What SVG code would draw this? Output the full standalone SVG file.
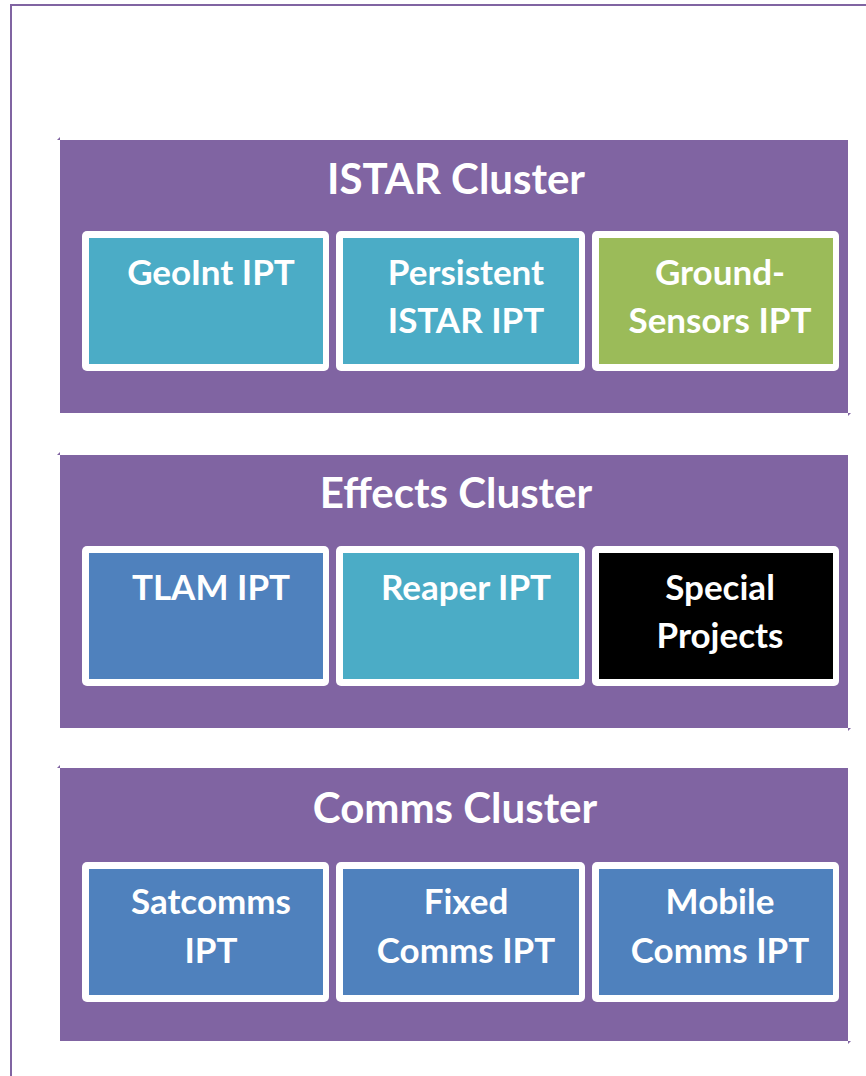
<svg xmlns="http://www.w3.org/2000/svg" width="866" height="1076" viewBox="0 0 866 1076">
<style>
.cl{fill:#8064A2}
.fr{fill:#ffffff}
.t{font-family:Lato,"Liberation Sans",sans-serif;font-weight:bold;fill:#ffffff;text-anchor:middle}
.ti{font-size:42px}
.bx{font-size:35px}
.teal{fill:#4BACC6}
.green{fill:#9BBB59}
.blue{fill:#4F81BD}
.blk{fill:#000000}
.mk{fill:#8064A2}
</style>
<rect width="866" height="1076" fill="#ffffff"/>
<rect x="11" y="5" width="880" height="1090" fill="none" stroke="#8064A2" stroke-width="2"/>

<g id="istar-cluster">
<rect class="cl" x="60" y="140" width="788" height="273"/>
<polygon class="mk" points="57,140 60,137 60,140"/>
<polygon class="mk" points="848,413 851,413 848,416"/>
<text class="t ti" x="456" y="194">ISTAR Cluster</text>
</g>
<g id="geoint-ipt">
<rect class="fr" x="82" y="231" width="247" height="140" rx="5"/>
<rect class="teal" x="89" y="238" width="234" height="126"/>
<text class="t bx" x="211" y="285">GeoInt IPT</text>
</g>
<g id="persistent-istar-ipt">
<rect class="fr" x="336" y="231" width="249" height="140" rx="5"/>
<rect class="teal" x="343" y="238" width="236" height="126"/>
<text class="t bx" x="466" y="285">Persistent</text>
<text class="t bx" x="466" y="333">ISTAR IPT</text>
</g>
<g id="ground-sensors-ipt">
<rect class="fr" x="592" y="231" width="247" height="140" rx="5"/>
<rect class="green" x="599" y="238" width="234" height="126"/>
<text class="t bx" x="720" y="285">Ground-</text>
<text class="t bx" x="720" y="333">Sensors IPT</text>
</g>

<g id="effects-cluster">
<rect class="cl" x="60" y="455" width="788" height="273"/>
<polygon class="mk" points="57,455 60,452 60,455"/>
<polygon class="mk" points="848,728 851,728 848,731"/>
<text class="t ti" x="456" y="508">Effects Cluster</text>
</g>
<g id="tlam-ipt">
<rect class="fr" x="82" y="546" width="247" height="140" rx="5"/>
<rect class="blue" x="89" y="553" width="234" height="126"/>
<text class="t bx" x="211" y="600">TLAM IPT</text>
</g>
<g id="reaper-ipt">
<rect class="fr" x="336" y="546" width="249" height="140" rx="5"/>
<rect class="teal" x="343" y="553" width="236" height="126"/>
<text class="t bx" x="466" y="600">Reaper IPT</text>
</g>
<g id="special-projects">
<rect class="fr" x="592" y="546" width="247" height="140" rx="5"/>
<rect class="blk" x="599" y="553" width="234" height="126"/>
<text class="t bx" x="720" y="600">Special</text>
<text class="t bx" x="720" y="648">Projects</text>
</g>

<g id="comms-cluster">
<rect class="cl" x="60" y="768" width="788" height="273"/>
<polygon class="mk" points="57,768 60,765 60,768"/>
<polygon class="mk" points="848,1041 851,1041 848,1044"/>
<text class="t ti" x="455" y="823">Comms Cluster</text>
</g>
<g id="satcomms-ipt">
<rect class="fr" x="82" y="862" width="247" height="140" rx="5"/>
<rect class="blue" x="89" y="869" width="234" height="126"/>
<text class="t bx" x="211" y="914">Satcomms</text>
<text class="t bx" x="211" y="963">IPT</text>
</g>
<g id="fixed-comms-ipt">
<rect class="fr" x="336" y="862" width="249" height="140" rx="5"/>
<rect class="blue" x="343" y="869" width="236" height="126"/>
<text class="t bx" x="466" y="914">Fixed</text>
<text class="t bx" x="466" y="963">Comms IPT</text>
</g>
<g id="mobile-comms-ipt">
<rect class="fr" x="592" y="862" width="247" height="140" rx="5"/>
<rect class="blue" x="599" y="869" width="234" height="126"/>
<text class="t bx" x="720" y="914">Mobile</text>
<text class="t bx" x="720" y="963">Comms IPT</text>
</g>
<g id="connectors"/>
</svg>
